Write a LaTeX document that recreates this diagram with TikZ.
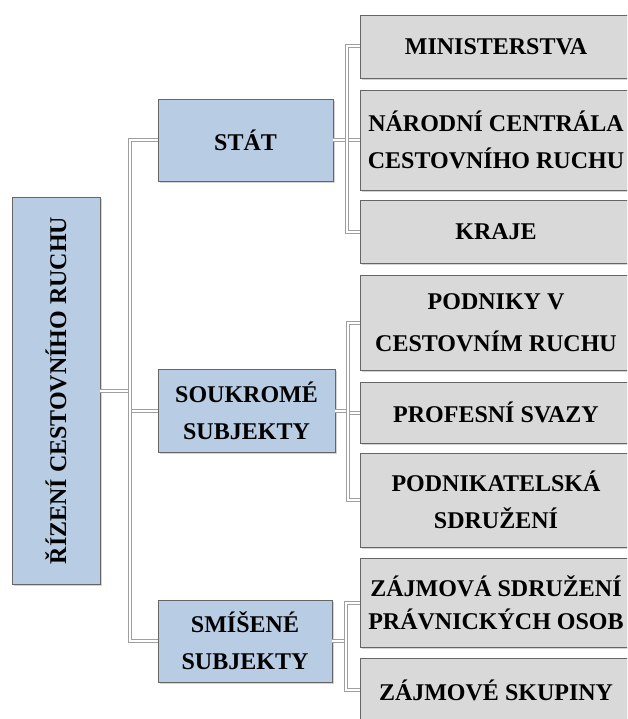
\documentclass[tikz,border=0pt]{standalone}
\usepackage{fontspec}
\setmainfont{Liberation Serif}
\usetikzlibrary{shadows}
\definecolor{boxblue}{RGB}{184,204,228}
\definecolor{boxgray}{RGB}{217,217,217}
\begin{document}
\begin{tikzpicture}[x=1pt,y=-1pt,font=\bfseries\fontsize{24}{37}\selectfont,
  box/.style={draw=gray!80!black,line width=0.8pt,align=center,inner sep=2pt,drop shadow={shadow xshift=1.5pt,shadow yshift=-2pt,opacity=0.35}},
  bluebox/.style={box,fill=boxblue},
  graybox/.style={box,fill=boxgray,minimum width=272pt},
  conn/.style={draw=gray!75,line width=1pt,double=white,double distance=2pt}]
\clip (0,0) rectangle (627,719);
% levels
\node[bluebox,minimum width=88pt,minimum height=387pt] (root) at (56,390.5){\rotatebox{90}{ŘÍZENÍ CESTOVNÍHO RUCHU}};
\node[bluebox,minimum width=175pt,minimum height=82pt] (stat) at (245.5,140){STÁT};
\node[bluebox,minimum width=177pt,minimum height=83pt] (souk) at (246.5,410.5){SOUKROMÉ\\SUBJEKTY};
\node[bluebox,minimum width=174pt,minimum height=82pt] (smis) at (245,641){SMÍŠENÉ\\SUBJEKTY};
\node[graybox,minimum height=63pt] (min) at (496,46.5){MINISTERSTVA};
\node[graybox,minimum height=100pt] (nar) at (496,140){NÁRODNÍ CENTRÁLA\\CESTOVNÍHO RUCHU};
\node[graybox,minimum height=63pt] (kraje) at (496,231.5){KRAJE};
\node[graybox,minimum height=95pt] (podn) at (496,322.5){PODNIKY V\\[5pt]CESTOVNÍM RUCHU};
\node[graybox,minimum height=61pt] (prof) at (496,412.5){PROFESNÍ SVAZY};
\node[graybox,minimum height=94pt] (pkat) at (496,500){PODNIKATELSKÁ\\SDRUŽENÍ};
\node[graybox,minimum height=89pt] (zsdr) at (496,602.5){ZÁJMOVÁ SDRUŽENÍ\\[-4pt]PRÁVNICKÝCH OSOB};
\node[graybox,minimum height=64pt] (zsku) at (496,690){ZÁJMOVÉ SKUPINY};
% connectors
\coordinate (t0) at (130,0); \coordinate (t1) at (347,0); \coordinate (t2) at (348,0); \coordinate (t3) at (346,0);
\draw[conn] (root.east) -- ([xshift=-2pt]root.east -| t0); \draw[conn] (souk.west) -- ([xshift=2pt]souk.west -| t0);
\draw[conn] (stat.west) -- (stat.west -| t0) -- (smis.west -| t0) -- (smis.west);
\draw[conn] (stat.east) -- ([xshift=-2pt]stat.east -| t1); \draw[conn] (nar.west) -- ([xshift=2pt]nar.west -| t1);
\draw[conn] (min.west) -- (min.west -| t1) -- (kraje.west -| t1) -- (kraje.west);
\draw[conn] (souk.east) -- ([xshift=-2pt]souk.east -| t2); \draw[conn] (prof.west) -- ([xshift=2pt]prof.west -| t2);
\draw[conn] (podn.west) -- (podn.west -| t2) -- (pkat.west -| t2) -- (pkat.west);
\draw[conn] (smis.east) -- ([xshift=-2pt]smis.east -| t3);
\draw[conn] (zsdr.west) -- (zsdr.west -| t3) -- (zsku.west -| t3) -- (zsku.west);
\end{tikzpicture}
\end{document}
